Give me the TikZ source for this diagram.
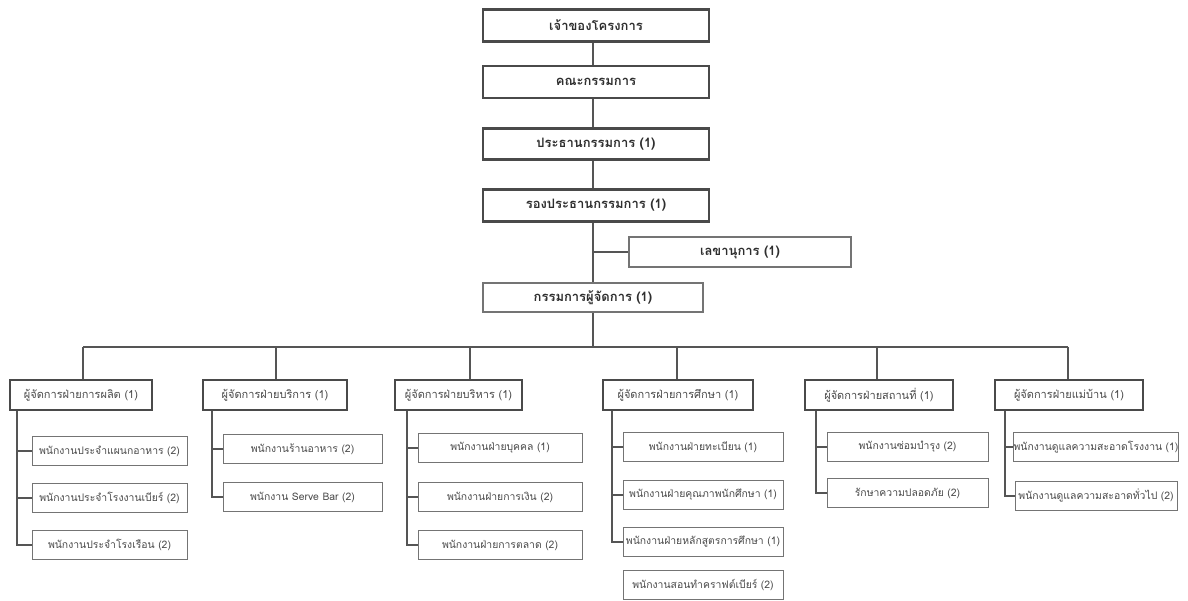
\documentclass[tikz,border=0pt]{standalone}
\usepackage{fontspec}
\newfontfamily\thai[Script=Thai]{Loma}
\definecolor{boxc}{HTML}{4A4A4A}
\definecolor{thinc}{HTML}{747474}
\definecolor{linec}{HTML}{555555}
\definecolor{txtc}{HTML}{2E2E2E}
\definecolor{txtl}{HTML}{4A4A4A}
\begin{document}
\begin{tikzpicture}[x=1pt,y=-1pt,
  topbox/.style={draw=boxc, line width=2.6pt, inner sep=0pt, text=txtc,
    font=\thai\bfseries\fontsize{13}{15}\selectfont},
  thinbox/.style={draw=thinc, line width=1.1pt, inner sep=0pt, text=txtc,
    font=\thai\bfseries\fontsize{13}{15}\selectfont},
  mgrbox/.style={draw=boxc, line width=2.6pt, inner sep=0pt, text=txtl,
    minimum height=30pt, font=\thai\fontsize{11}{13}\selectfont},
  staffbox/.style={draw=thinc, line width=1pt, inner sep=0pt, text=txtl,
    minimum height=29pt, font=\thai\fontsize{10.4}{12}\selectfont},
  conn/.style={draw=linec, line width=1.3pt}]
\useasboundingbox (0,0) rectangle (1188,601);
\fill[white] (0,0) rectangle (1188,601);

% top chain
\node[topbox, minimum width=226pt, minimum height=32pt] (own) at (596,25.5) {เจ้าของโครงการ};
\node[topbox, minimum width=226pt, minimum height=32pt] (brd) at (596,82) {คณะกรรมการ};
\node[topbox, minimum width=226pt, minimum height=31pt] (chr) at (596,144) {ประธานกรรมการ (1)};
\node[topbox, minimum width=226pt, minimum height=32pt] (vch) at (596,205.5) {รองประธานกรรมการ (1)};
\node[thinbox, minimum width=222pt, minimum height=30pt] (sec) at (740,252) {เลขานุการ (1)};
\node[thinbox, minimum width=220pt, minimum height=29pt] (md) at (593,297.5) {กรรมการผู้จัดการ (1)};

\coordinate (stem) at (593,0);
\draw[conn] (own.south -| stem) -- (brd.north -| stem);
\draw[conn] (brd.south -| stem) -- (chr.north -| stem);
\draw[conn] (chr.south -| stem) -- (vch.north -| stem);
\draw[conn] (vch.south -| stem) -- (md.north -| stem);
\draw[conn] (sec.west -| stem) -- (sec.west);

% bar
\coordinate (barL) at (83,347);
\coordinate (barR) at (1068,347);
\draw[conn] (md.south -| stem) -- (stem |- barL);
\draw[conn] (barL) -- (barR);

% managers
\node[mgrbox, minimum width=142pt] (m1) at (81,395) {ผู้จัดการฝ่ายการผลิต (1)};
\node[mgrbox, minimum width=144pt] (m2) at (275,395) {ผู้จัดการฝ่ายบริการ (1)};
\node[mgrbox, minimum width=127pt] (m3) at (458.5,395) {ผู้จัดการฝ่ายบริหาร (1)};
\node[mgrbox, minimum width=150pt] (m4) at (678,395) {ผู้จัดการฝ่ายการศึกษา (1)};
\node[mgrbox, minimum width=148pt] (m5) at (879,395) {ผู้จัดการฝ่ายสถานที่ (1)};
\node[mgrbox, minimum width=148pt] (m6) at (1069,395) {ผู้จัดการฝ่ายแม่บ้าน (1)};

\coordinate (s1) at (83,347);
\coordinate (s2) at (276,347);
\coordinate (s3) at (470,347);
\coordinate (s4) at (677,347);
\coordinate (s5) at (877,347);
\coordinate (s6) at (1068,347);
\foreach \i in {1,...,6} {\draw[conn] (s\i) -- (s\i |- m\i.north);}

% staff: group 1
\node[staffbox, minimum width=155pt] (c11) at (109.5,451) {พนักงานประจำแผนกอาหาร (2)};
\node[staffbox, minimum width=155pt] (c12) at (109.5,498) {พนักงานประจำโรงงานเบียร์ (2)};
\node[staffbox, minimum width=155pt] (c13) at (109.5,545) {พนักงานประจำโรงเรือน (2)};
% group 2
\node[staffbox, minimum width=159pt] (c21) at (302.5,449) {พนักงานร้านอาหาร (2)};
\node[staffbox, minimum width=159pt] (c22) at (302.5,497) {พนักงาน Serve Bar (2)};
% group 3
\node[staffbox, minimum width=164pt] (c31) at (500,448) {พนักงานฝ่ายบุคคล (1)};
\node[staffbox, minimum width=164pt] (c32) at (500,497) {พนักงานฝ่ายการเงิน (2)};
\node[staffbox, minimum width=164pt] (c33) at (500,545) {พนักงานฝ่ายการตลาด (2)};
% group 4
\node[staffbox, minimum width=160pt] (c41) at (703,447) {พนักงานฝ่ายทะเบียน (1)};
\node[staffbox, minimum width=160pt] (c42) at (703,495) {พนักงานฝ่ายคุณภาพนักศึกษา (1)};
\node[staffbox, minimum width=160pt] (c43) at (703,542) {พนักงานฝ่ายหลักสูตรการศึกษา (1)};
\node[staffbox, minimum width=160pt] (c44) at (703,585) {พนักงานสอนทำคราฟต์เบียร์ (2)};
% group 5
\node[staffbox, minimum width=161pt] (c51) at (907.5,447) {พนักงานซ่อมบำรุง (2)};
\node[staffbox, minimum width=161pt] (c52) at (907.5,493) {รักษาความปลอดภัย (2)};
% group 6
\node[staffbox, minimum width=162pt] (c61) at (1096,447) {พนักงานดูแลความสะอาดโรงงาน (1)};
\node[staffbox, minimum width=162pt] (c62) at (1096,496) {พนักงานดูแลความสะอาดทั่วไป (2)};

\coordinate (v1) at (17,0);
\coordinate (v2) at (212,0);
\coordinate (v3) at (407,0);
\coordinate (v4) at (612,0);
\coordinate (v5) at (816,0);
\coordinate (v6) at (1005,0);

\draw[conn] (m1.south -| v1) |- (c11.west);
\draw[conn] (m1.south -| v1) |- (c12.west);
\draw[conn] (m1.south -| v1) |- (c13.west);
\draw[conn] (m2.south -| v2) |- (c21.west);
\draw[conn] (m2.south -| v2) |- (c22.west);
\draw[conn] (m3.south -| v3) |- (c31.west);
\draw[conn] (m3.south -| v3) |- (c32.west);
\draw[conn] (m3.south -| v3) |- (c33.west);
\draw[conn] (m4.south -| v4) |- (c41.west);
\draw[conn] (m4.south -| v4) |- (c42.west);
\draw[conn] (m4.south -| v4) |- (c43.west);
\draw[conn] (m5.south -| v5) |- (c51.west);
\draw[conn] (m5.south -| v5) |- (c52.west);
\draw[conn] (m6.south -| v6) |- (c61.west);
\draw[conn] (m6.south -| v6) |- (c62.west);
\end{tikzpicture}
\end{document}
